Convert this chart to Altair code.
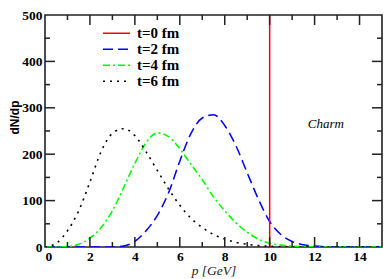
import altair as alt
import pandas as pd

# ---------------- data ----------------
series = ["t=0 fm", "t=2 fm", "t=4 fm", "t=6 fm"]

p_grid = [0, 0.5, 1, 1.5, 2, 2.5, 3, 3.5, 4, 4.5, 5, 5.5, 6, 6.5, 7, 7.5,
          8, 8.5, 9, 9.5, 10, 10.5, 11, 11.5, 12, 12.5, 13, 13.5, 14, 14.5, 15]

t2_vals = [0, 0, 0, 0, 0, 0, 0, 2, 12, 35, 68, 117, 185, 245, 278, 285,
           262, 218, 160, 103, 55, 27, 12, 5, 2, 0.5, 0, 0, 0, 0, 0]
t4_vals = [0, 0, 1, 6, 19, 42, 78, 128, 180, 225, 246, 238, 212, 178, 145, 108,
           78, 52, 32, 17, 8, 4, 2, 1, 0.5, 0, 0, 0, 0, 0, 0]
t6_vals = [0, 8, 35, 78, 140, 206, 245, 255, 240, 205, 165, 125, 90, 62, 42, 27,
           17, 10, 6, 3, 1.5, 0.5, 0, 0, 0, 0, 0, 0, 0, 0, 0]

t0_p = [10, 10]
t0_vals = [0, 500]

x_major = [2, 4, 6, 8, 10, 12, 14]
x_minor = [1, 3, 5, 7, 9, 11, 13]
y_major = [100, 200, 300, 400]
y_minor = [50, 150, 250, 350, 450]

x_labels = [0, 2, 4, 6, 8, 10, 12, 14]
y_labels = [0, 100, 200, 300, 400, 500]

note_p = [12.5]
note_v = [266]
note_text = ["Charm"]

# ---------------- layout ----------------
W, H = 337, 232
MAJ, MIN = 10, 5
FRAME = "#222222"
SERIF = "Times New Roman, Liberation Serif, DejaVu Serif, serif"

rows = []
for name, vals in [("t=2 fm", t2_vals), ("t=4 fm", t4_vals), ("t=6 fm", t6_vals)]:
    for p, v in zip(p_grid, vals):
        rows.append({"series": name, "p": p, "v": v})
curves = pd.DataFrame(rows)
red = pd.DataFrame({"series": ["t=0 fm"] * 2, "p": t0_p, "v": t0_vals})

xscale = alt.Scale(domain=[0, 15], nice=False, zero=False)
yscale = alt.Scale(domain=[0, 500], nice=False, zero=True)

xenc = alt.X("p:Q", scale=xscale,
             axis=alt.Axis(values=x_labels, title="p [GeV]", ticks=False, domain=False,
                           grid=False, labelPadding=2,
                           titleY=27, titleBaseline="alphabetic",
                           titleFont=SERIF, titleFontStyle="italic",
                           titleFontWeight="normal", titleFontSize=13.5, titleColor=FRAME))
yenc = alt.Y("v:Q", scale=yscale,
             axis=alt.Axis(values=y_labels, title="dN/dp", ticks=False, domain=False,
                           grid=False, labelPadding=3,
                           titleFont="Liberation Sans, Arial, sans-serif", titleFontWeight="bold",
                           titleFontSize=12, titleColor="#000000",
                           titleX=-31, titleY=102, titleAngle=270,
                           titleAlign="center", titleBaseline="middle"))

color_scale = alt.Scale(domain=series, range=["#ff0000", "#0000ff", "#00ff00", "#000000"])
dash_scale = alt.Scale(domain=series, range=[[1, 0], [10, 5], [7, 3, 2, 3], [2, 5]])

leg = alt.Legend(orient="none", legendX=57, legendY=11, title=None,
                 symbolType="stroke", symbolSize=729, symbolStrokeWidth=1.6,
                 labelFont=SERIF, labelFontWeight="bold", labelFontSize=15,
                 labelColor="#000000", labelOffset=6, clipHeight=14.5,
                 rowPadding=0, padding=0, offset=0)

color_enc = alt.Color("series:N", scale=color_scale, legend=leg)
dash_enc = alt.StrokeDash("series:N", scale=dash_scale, legend=leg)

curve_layer = alt.Chart(curves).mark_line(interpolate="monotone", clip=True).encode(
    x=xenc, y=yenc, color=color_enc, strokeDash=dash_enc,
    strokeWidth=alt.StrokeWidth("series:N",
                                scale=alt.Scale(domain=series, range=[1.5, 1.6, 1.6, 2.3]),
                                legend=None),
    detail="series:N",
)

red_layer = alt.Chart(red).mark_line(interpolate="linear", clip=True, strokeWidth=1.5).encode(
    x=xenc, y=yenc, color=color_enc, strokeDash=dash_enc,
)

note_layer = alt.Chart(pd.DataFrame({"p": note_p, "v": note_v, "t": note_text})).mark_text(
    font=SERIF, fontStyle="italic", fontSize=13, color="#000000",
    align="center", baseline="middle").encode(x=xenc, y=yenc, text="t:N")

tick_layers = []
for vals, ln in [(x_major, MAJ), (x_minor, MIN)]:
    d = pd.DataFrame({"p": vals})
    tick_layers.append(alt.Chart(d).mark_rule(color=FRAME, strokeWidth=1.5).encode(
        x=xenc, y=alt.value(H), y2=alt.value(H - ln)))
    tick_layers.append(alt.Chart(d).mark_rule(color=FRAME, strokeWidth=1.5).encode(
        x=xenc, y=alt.value(0), y2=alt.value(ln)))
for vals, ln in [(y_major, MAJ), (y_minor, MIN)]:
    d = pd.DataFrame({"v": vals})
    tick_layers.append(alt.Chart(d).mark_rule(color=FRAME, strokeWidth=1.5).encode(
        y=yenc, x=alt.value(0), x2=alt.value(ln)))
    tick_layers.append(alt.Chart(d).mark_rule(color=FRAME, strokeWidth=1.5).encode(
        y=yenc, x=alt.value(W), x2=alt.value(W - ln)))

chart = alt.layer(curve_layer, red_layer, note_layer, *tick_layers).properties(
    width=W, height=H,
    autosize=alt.AutoSizeParams(type="none"),
    padding={"left": 37, "top": 7, "right": 1, "bottom": 31},
).configure_view(
    stroke=FRAME, strokeWidth=1.6
).configure_axis(
    labelFont=SERIF, labelFontWeight="bold", labelFontSize=13.5,
    labelColor="#000000"
)

chart.save("out.html", embed_options={"renderer": "svg", "actions": False})
